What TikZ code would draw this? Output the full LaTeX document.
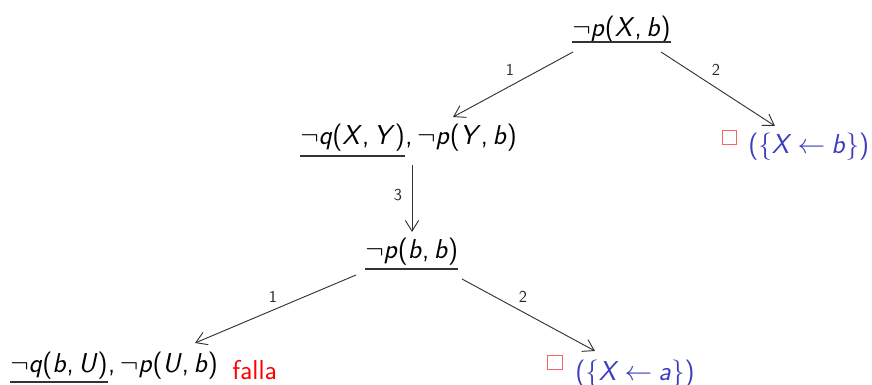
\documentclass[tikz,border=0pt]{standalone}
\usetikzlibrary{arrows.meta,calc}
\definecolor{soln}{RGB}{60,60,190}
\definecolor{boxred}{RGB}{248,100,100}
\tikzset{
  term/.style={inner sep=0pt, anchor=base west, font=\fontsize{20.5}{22}\selectfont\sffamily},
  lbl/.style={inner sep=0pt, font=\fontsize{12.5}{14}\selectfont\sffamily, text=black!85},
  edge/.style={draw=black!80, line width=0.7pt, -{Straight Barb[length=8pt,width=10pt]}},
  uline/.style={draw=black!80, line width=0.8pt},
  emptybox/.style={draw=boxred, line width=0.8pt, minimum size=11pt, inner sep=0pt},
}
\newcommand{\mv}[1]{\textit{#1}}
\newcommand{\nt}{$\neg$}
\newcommand{\cm}{,\kern0.17em}
\newcommand{\bindarrow}{\kern0.22em$\leftarrow$\kern0.22em}
\begin{document}
\begin{tikzpicture}[x=0.75pt,y=-0.75pt]
\useasboundingbox (0,0) rectangle (872,385);
% top
\node[term] (n1) at (572,37) {\nt\mv{p}(\mv{X}\cm\mv{b})};
\draw[uline] (n1.base west |- 0,42) -- (n1.base east |- 0,42);
% level 2
\node[term] (n2a) at (300,145) {\nt\mv{q}(\mv{X}\cm\mv{Y})};
\node[term] (n2b) at (n2a.base east) {\cm\nt\mv{p}(\mv{Y}\cm\mv{b})};
\draw[uline] (300,156) -- (n2a.base east |- 0,156);
\node[emptybox] (b1) at (729.5,137.5) {};
\node[term, text=soln] (s1) at (748,153) {(\{\mv{X}\bindarrow\mv{b}\})};
% level 3
\node[term] (n3) at (365,258) {\nt\mv{p}(\mv{b}\cm\mv{b})};
\draw[uline] (n3.base west |- 0,269) -- (n3.base east |- 0,269);
% level 4
\node[term] (n4a) at (10,372) {\nt\mv{q}(\mv{b}\cm\mv{U})};
\node[term] (n4b) at (n4a.base east) {\cm\nt\mv{p}(\mv{U}\cm\mv{b})};
\draw[uline] (10,382) -- (n4a.base east |- 0,382);
\node[term, text=red] (f) at (232,379) {falla};
\node[emptybox] (b2) at (555,362.5) {};
\node[term, text=soln] (s2) at (575,380) {(\{\mv{X}\bindarrow\mv{a}\})};
% connectors
\coordinate (t1) at (573,52);
\coordinate (t2) at (661,52);
\coordinate (h1) at (453,117);
\coordinate (h2) at (775,126);
\draw[edge] (t1) -- (h1);
\draw[edge] (t2) -- (h2);
\node[lbl] (l1) at (510,70) {1};
\node[lbl] (l2) at (716,70) {2};
\coordinate (t3) at (412,165);
\coordinate (h3) at (412,232);
\draw[edge] (t3) -- (h3);
\node[lbl] (l3) at (398,195) {3};
\coordinate (t4) at (356,275);
\coordinate (h4) at (195,343);
\coordinate (t5) at (462,279);
\coordinate (h5) at (595,351);
\draw[edge] (t4) -- (h4);
\draw[edge] (t5) -- (h5);
\node[lbl] (l4) at (273,297) {1};
\node[lbl] (l5) at (523,297) {2};
\end{tikzpicture}
\end{document}
